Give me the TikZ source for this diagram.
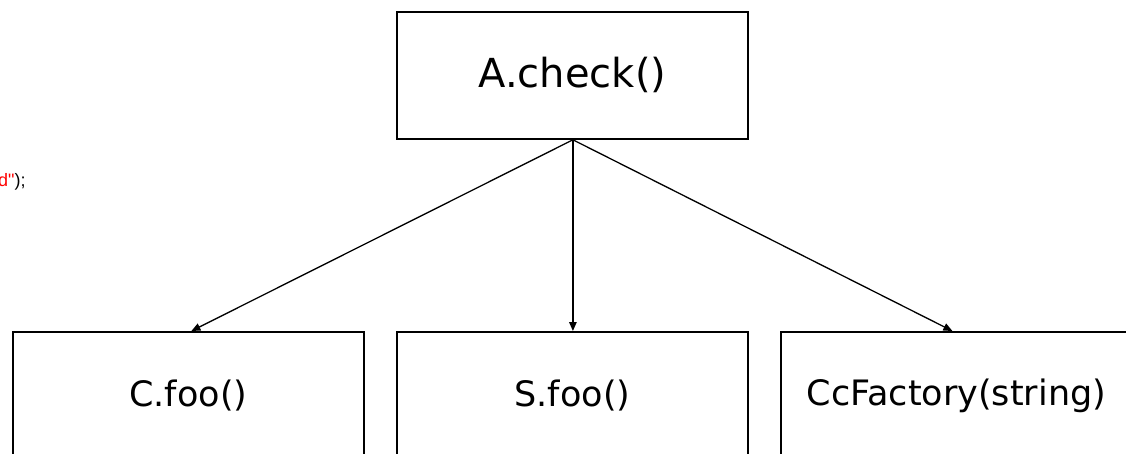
\documentclass[tikz,border=0pt]{standalone}
\usepackage{fontspec}
\setmainfont{DejaVu Sans}
\newfontfamily\arialf{Liberation Sans}
\usetikzlibrary{arrows.meta}
\tikzset{
  box/.style={draw, line width=1.8pt, minimum width=351pt, minimum height=127pt, inner sep=0pt, anchor=north west},
  conn/.style={line width=1.3pt, -{Triangle[length=9pt,width=7.5pt]}},
  toptext/.style={font=\fontsize{40}{48}\selectfont},
  bottext/.style={font=\fontsize{35}{42}\selectfont},
}
\begin{document}
\begin{tikzpicture}[x=1pt,y=-1pt]
\useasboundingbox (0,0) rectangle (1126,454);
\clip (0,0) rectangle (1126,454);
\node[box, toptext] (a) at (396,11) {A.check()};
\node[box, bottext] (c) at (12,331) {C.foo()};
\node[box, bottext] (s) at (396,331) {S.foo()};
\node[box, bottext] (f) at (780,331) {CcFactory(string)};
\node[anchor=base west, inner sep=0pt, font=\arialf\fontsize{18}{21}\selectfont] (frag) at (-2,187) {\textcolor{red}{d"});};
\draw[conn] ([xshift=0.5pt]a.south) -- ([xshift=3pt]c.north);
\draw[conn] ([xshift=0.5pt]a.south) -- ([xshift=0.5pt]s.north);
\draw[conn] ([xshift=0.5pt]a.south) -- ([xshift=-4pt]f.north);
\end{tikzpicture}
\end{document}
